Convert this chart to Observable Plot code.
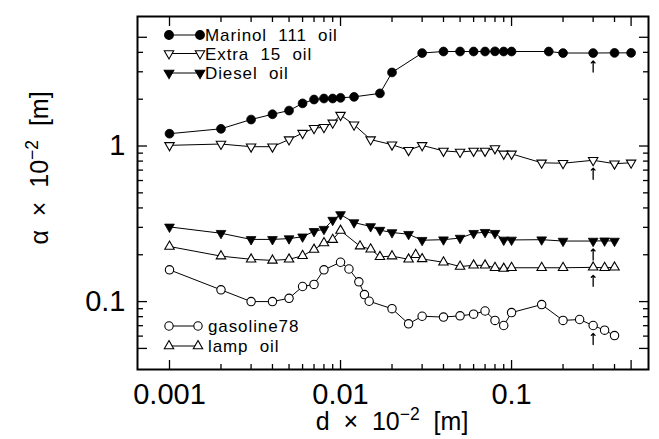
<!DOCTYPE html>
<html><head><meta charset="utf-8">
<script src="https://cdn.jsdelivr.net/npm/d3@7"></script>
<script src="https://cdn.jsdelivr.net/npm/@observablehq/plot@0.6"></script>
<style>body{margin:0;background:#fff}</style>
</head><body><div id="chart"></div>
<script>
// ---- data ----
const marinolX = [0.001,0.002,0.003,0.004,0.005,0.006,0.007,0.008,0.009,0.01,0.012,0.017,0.02,0.03,0.04,0.05,0.06,0.07,0.08,0.09,0.1,0.165,0.2,0.3,0.4,0.5];
const marinolY = [1.2,1.29,1.48,1.6,1.69,1.88,1.99,2.02,2.02,2.04,2.07,2.18,2.97,3.96,4.05,4.05,4.05,4.05,4.06,4.05,4.05,4.05,3.96,3.96,3.97,3.97];
const extraX = [0.001,0.002,0.003,0.004,0.005,0.006,0.007,0.008,0.009,0.01,0.012,0.015,0.02,0.025,0.03,0.04,0.05,0.06,0.07,0.08,0.09,0.1,0.15,0.2,0.3,0.4,0.5];
const extraY = [1.01,1.03,0.99,0.99,1.10,1.21,1.30,1.32,1.41,1.58,1.37,1.10,1.02,0.94,1.01,0.93,0.915,0.93,0.93,0.965,0.89,0.89,0.78,0.775,0.81,0.77,0.78];
const dieselX = [0.001,0.002,0.003,0.004,0.005,0.006,0.007,0.008,0.009,0.01,0.012,0.015,0.017,0.02,0.025,0.03,0.04,0.05,0.06,0.07,0.08,0.09,0.1,0.15,0.2,0.3,0.35,0.4];
const dieselY = [0.302,0.275,0.251,0.251,0.254,0.261,0.283,0.292,0.334,0.363,0.322,0.304,0.288,0.278,0.271,0.248,0.25,0.256,0.275,0.279,0.275,0.249,0.249,0.25,0.245,0.245,0.246,0.245];
const lampX = [0.001,0.002,0.003,0.004,0.005,0.006,0.007,0.008,0.009,0.01,0.013,0.015,0.017,0.02,0.025,0.0275,0.03,0.04,0.05,0.06,0.07,0.08,0.09,0.1,0.15,0.2,0.3,0.35,0.4];
const lampY = [0.226,0.196,0.187,0.184,0.187,0.197,0.216,0.238,0.25,0.286,0.227,0.217,0.194,0.196,0.187,0.2,0.188,0.179,0.168,0.171,0.171,0.165,0.163,0.165,0.165,0.165,0.166,0.165,0.166];
const gasX = [0.001,0.002,0.003,0.004,0.005,0.006,0.007,0.008,0.01,0.0112,0.0128,0.0138,0.0147,0.02,0.025,0.03,0.04,0.05,0.06,0.07,0.08,0.09,0.1,0.15,0.2,0.25,0.3,0.35,0.4];
const gasY = [0.16,0.119,0.1,0.1,0.105,0.125,0.129,0.16,0.179,0.162,0.134,0.111,0.1005,0.09,0.072,0.0805,0.0795,0.081,0.083,0.087,0.0757,0.0702,0.085,0.0957,0.0757,0.0767,0.0702,0.0655,0.0605];

const seriesNames = ["Marinol  111  oil","Extra  15  oil","Diesel  oil","gasoline78","lamp  oil"];
const arrowX = 0.3;

const xMajor = [0.001,0.01,0.1,0.5];
const xMajorLabels = ["0.001","0.01","0.1","0.5"];
const xMinor = [0.002,0.003,0.004,0.005,0.006,0.007,0.008,0.009,0.02,0.03,0.04,0.05,0.06,0.07,0.08,0.09,0.2,0.3,0.4];
const yMajor = [0.05,0.1,1,5];
const yMajorLabels = ["0.05","0.1","1","5"];
const yMinor = [0.06,0.07,0.08,0.09,0.2,0.3,0.4,0.5,0.6,0.7,0.8,0.9,2,3,4];

// ---- build tables ----
const rows = (xs, ys) => xs.map((x, i) => ({x, y: ys[i]}));
const marinol = rows(marinolX, marinolY);
const extra = rows(extraX, extraY);
const diesel = rows(dieselX, dieselY);
const gas = rows(gasX, gasY);
const lamp = rows(lampX, lampY);
const arrows = [marinol, extra, diesel, gas, lamp].map(s => s.find(d => d.x === arrowX)).filter(Boolean);

const FF = "'Liberation Sans', Arial, Helvetica, sans-serif";
const TICKFONT = 29;
const blank = () => "";

const svg = Plot.plot({
  width: 659, height: 439,
  marginLeft: 137, marginRight: 11, marginTop: 16, marginBottom: 70,
  x: {type: "log", domain: [0.00065, 0.632]},
  y: {type: "log", domain: [0.0366, 6.8]},
  style: {fontFamily: FF, background: "white", color: "black", overflow: "visible"},
  marks: [
    // inward ticks
    Plot.axisX(xMajor, {anchor: "bottom", tickSize: -9, tickFormat: blank, label: null, strokeWidth: 1.3}),
    Plot.axisX(xMinor, {anchor: "bottom", tickSize: -5, tickFormat: blank, label: null, strokeWidth: 1.3}),
    Plot.axisX(xMajor, {anchor: "top", tickSize: -9, tickFormat: blank, label: null, strokeWidth: 1.3}),
    Plot.axisX(xMinor, {anchor: "top", tickSize: -5, tickFormat: blank, label: null, strokeWidth: 1.3}),
    Plot.axisY(yMajor, {anchor: "left", tickSize: -10, tickFormat: blank, label: null, strokeWidth: 1.3}),
    Plot.axisY(yMinor, {anchor: "left", tickSize: -6, tickFormat: blank, label: null, strokeWidth: 1.3}),
    Plot.axisY(yMajor, {anchor: "right", tickSize: -10, tickFormat: blank, label: null, strokeWidth: 1.3}),
    Plot.axisY(yMinor, {anchor: "right", tickSize: -6, tickFormat: blank, label: null, strokeWidth: 1.3}),
    // tick labels
    Plot.axisX(xMajor, {anchor: "bottom", tickSize: 0, tickPadding: 14, fontSize: TICKFONT,
      tickFormat: d => xMajorLabels[xMajor.indexOf(d)], label: null}),
    Plot.axisY(yMajor, {anchor: "left", tickSize: 0, tickPadding: 12, fontSize: TICKFONT,
      tickFormat: d => yMajorLabels[yMajor.indexOf(d)], label: null}),
    Plot.frame({stroke: "black", strokeWidth: 2}),
    // series lines
    Plot.line(marinol, {x: "x", y: "y", stroke: "black", strokeWidth: 1}),
    Plot.line(extra, {x: "x", y: "y", stroke: "black", strokeWidth: 1}),
    Plot.line(diesel, {x: "x", y: "y", stroke: "black", strokeWidth: 1}),
    Plot.line(gas, {x: "x", y: "y", stroke: "black", strokeWidth: 1}),
    Plot.line(lamp, {x: "x", y: "y", stroke: "black", strokeWidth: 1}),
    // markers
    Plot.dot(marinol, {x: "x", y: "y", r: 4.4, fill: "black", stroke: "black", strokeWidth: 0.8}),
    Plot.dot(extra, {x: "x", y: "y", symbol: "triangle", rotate: 180, r: 3.5, fill: "white", stroke: "black", strokeWidth: 1.1}),
    Plot.dot(diesel, {x: "x", y: "y", symbol: "triangle", rotate: 180, r: 3.6, fill: "black", stroke: "black", strokeWidth: 0.8}),
    Plot.dot(gas, {x: "x", y: "y", r: 4.2, fill: "white", stroke: "black", strokeWidth: 1.1}),
    Plot.dot(lamp, {x: "x", y: "y", symbol: "triangle", r: 3.5, fill: "white", stroke: "black", strokeWidth: 1.1}),
    // arrows under the x = 0.3 points
    Plot.vector(arrows, {x: "x", y: "y", length: 11, rotate: 0, anchor: "start", dy: 19, r: 3, stroke: "black", strokeWidth: 1.3})
  ]
});

// ---- axis titles and in-plot legends (layout overlay) ----
const s = d3.select(svg);
function axisTitle(node, main) {
  node.append("tspan").text(main + "  ×  10");
  node.append("tspan").text("−2").attr("font-size", "70%").attr("dy", "-0.6em");
  node.append("tspan").text("  [m]").attr("dy", "0.42em");
}
const yl = s.append("text").attr("transform", "translate(48,168) rotate(-90)")
  .attr("text-anchor", "middle").attr("font-family", FF).attr("font-size", 25).attr("fill", "black")
  .attr("xml:space", "preserve");
axisTitle(yl, "α");

const xl = s.append("text").attr("x", 392).attr("y", 430)
  .attr("text-anchor", "middle").attr("font-family", FF).attr("font-size", 25).attr("fill", "black")
  .attr("xml:space", "preserve");
axisTitle(xl, "d");

const legendItems = [
  {name: seriesNames[0], y: 35, x1: 169, x2: 200, tx: 205, sym: d3.symbolCircle, size: 60, fill: "black", rot: 0},
  {name: seriesNames[1], y: 53.5, x1: 169, x2: 200, tx: 205, sym: d3.symbolTriangle, size: 38, fill: "white", rot: 180},
  {name: seriesNames[2], y: 73, x1: 169, x2: 200, tx: 205, sym: d3.symbolTriangle, size: 40, fill: "black", rot: 180},
  {name: seriesNames[3], y: 326, x1: 169, x2: 198, tx: 208, sym: d3.symbolCircle, size: 55, fill: "white", rot: 0},
  {name: seriesNames[4], y: 346, x1: 169, x2: 198, tx: 208, sym: d3.symbolTriangle, size: 38, fill: "white", rot: 0}
];
const lg = s.append("g");
legendItems.forEach(it => {
  lg.append("line").attr("x1", it.x1).attr("x2", it.x2).attr("y1", it.y).attr("y2", it.y).attr("stroke", "black").attr("stroke-width", 1);
  [it.x1, it.x2].forEach(x => lg.append("path").attr("d", d3.symbol(it.sym, it.size)())
    .attr("transform", `translate(${x},${it.y}) rotate(${it.rot})`)
    .attr("fill", it.fill).attr("stroke", "black").attr("stroke-width", 1.1));
  lg.append("text").attr("x", it.tx).attr("y", it.y).attr("dy", "0.36em").attr("text-anchor", "start")
    .attr("font-family", FF).attr("font-size", 17).attr("letter-spacing", 0.9).attr("fill", "black")
    .attr("xml:space", "preserve").text(it.name);
});

document.getElementById("chart").appendChild(svg);
</script>
</body></html>
